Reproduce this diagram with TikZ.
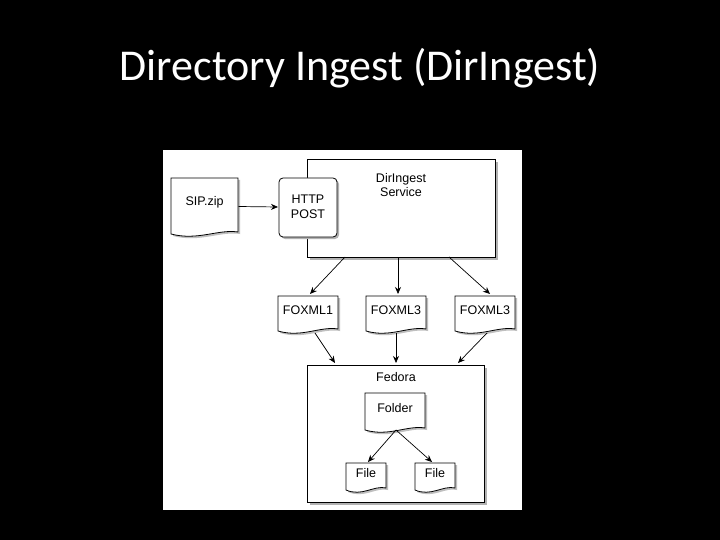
\documentclass[tikz,border=0pt]{standalone}
\usepackage{fontspec}
\setmainfont{Liberation Sans}
\newfontfamily\titlefont{Carlito}
\usetikzlibrary{calc,arrows.meta}
\begin{document}
\begin{tikzpicture}[x=1pt,y=-1pt,
  every node/.style={inner sep=0pt,font=\fontsize{12.5}{14.5}\selectfont},
  boxx/.style={draw=black,fill=white,line width=0.8pt},
  arr/.style={-{Stealth[length=7pt,width=6pt]},line width=0.7pt}]
\useasboundingbox (0,0) rectangle (720,540);
\fill[black] (0,0) rectangle (720,540);
\node[text=white,font=\titlefont\fontsize{44}{50}\selectfont] (title) at (360,68) {Directory Ingest (DirIngest)};
\fill[white] (163,150) rectangle (522,510);
% service
\fill[gray!60] (310,162) rectangle (498,260);
\draw[boxx] (307,159) rectangle (495,257);
\node[align=center] (svc) at (401,185) {DirIngest\\Service};
\coordinate (svcb) at (401,257);
% http post
\fill[gray!60,rounded corners=4pt] (281,180) rectangle (339,239);
\draw[boxx,rounded corners=4pt] (279,178) rectangle (337,237);
\node[align=center] (http) at (308,207) {HTTP\\POST};
% documents
\newcommand{\docshape}[5]{%
  \fill[gray!50] (#1+2,#2+2) -- (#3+2,#2+2) -- (#3+2,#4-1) .. controls (#3-0.3*#3+0.3*#1+2,#4-4) and (#1+0.4*#3-0.4*#1+2,#4+8) .. (#1+2,#4+1) -- cycle;
  \draw[boxx] (#1,#2) -- (#3,#2) -- (#3,#4-3) .. controls (#3-0.3*#3+0.3*#1,#4-6) and (#1+0.4*#3-0.4*#1,#4+6) .. (#1,#4-1) -- cycle;
  \node (#5) at ({(#1+#3)/2},{(#2+#4)/2-4}) {};}
\docshape{171}{178}{238}{235}{sip}
\node at (sip) {SIP.zip};
\docshape{278}{296}{338}{332}{fa}
\node at (fa) {FOXML1};
\docshape{366}{296}{426}{332}{fb}
\node at (fb) {FOXML3};
\docshape{455}{296}{515}{332}{fc}
\node at (fc) {FOXML3};
% fedora
\fill[gray!60] (310,368) rectangle (487,505);
\draw[boxx] (307,365) rectangle (484,502);
\node (fed) at (396,377) {Fedora};
\coordinate (fedt) at (396,365);
\docshape{365}{393}{425}{431}{fold}
\node at (fold) {Folder};
\docshape{346}{463}{386}{491}{fi1}
\node at (fi1) {File};
\docshape{415}{463}{455}{491}{fi2}
\node at (fi2) {File};
% arrows
\draw[arr] ($(sip)+(34,4)$) -- ($(http)+(-30,0)$);
\draw[arr] ($(svcb)+(-56,0)$) -- ($(fa)+(2,-16)$);
\draw[arr] ($(svcb)+(-3,0)$) -- ($(fb)+(2,-16)$);
\draw[arr] ($(svcb)+(48,0)$) -- ($(fc)+(5,-16)$);
\draw[arr] ($(fa)+(7,23)$) -- ($(fedt)+(-61,-2)$);
\draw[arr] ($(fb)+(0,23)$) -- ($(fedt)+(0,-2)$);
\draw[arr] ($(fc)+(2,23)$) -- ($(fedt)+(62,-2)$);
\draw[arr] ($(fold)+(1,22)$) -- ($(fi1)+(2,-11)$);
\draw[arr] ($(fold)+(1,22)$) -- ($(fi2)+(-3,-11)$);
\end{tikzpicture}
\end{document}
